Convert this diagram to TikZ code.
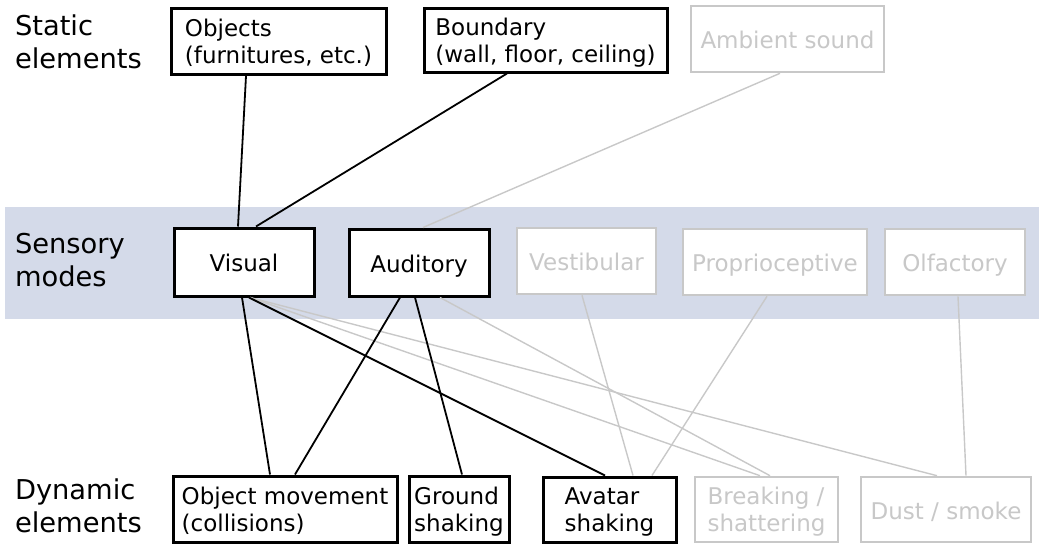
\documentclass[tikz,border=0pt]{standalone}
\usepackage{fontspec}
\setmainfont{DejaVu Sans}
\definecolor{bandc}{RGB}{212,218,233}
\definecolor{lgray}{RGB}{200,200,200}
\tikzset{
 box/.style={draw=black, line width=3pt, fill=white, inner sep=0pt, align=left, font=\fontsize{23}{27}\selectfont, text=black},
 gbox/.style={box, draw=lgray, line width=2.6pt, text=lgray},
 one/.style={text height=19pt, text depth=0pt},
 two/.style={text height=44pt, text depth=0pt},
 lab/.style={anchor=south west, inner sep=0pt, outer sep=0pt, align=left, text depth=0pt, font=\fontsize{27.3}{33}\selectfont},
 bl/.style={draw=black, line width=1.8pt},
 gl/.style={draw=lgray, line width=1.4pt},
}
\begin{document}
\begin{tikzpicture}[x=1pt,y=-1pt]
\useasboundingbox (0,0) rectangle (1039,546);
\fill[bandc] (5,207) rectangle (1039,319);
% row labels
\node[lab] (lstatic) at (15,68) {Static\\elements};
\node[lab] (lsens) at (15,286) {Sensory\\modes};
\node[lab] (ldyn) at (15,532) {Dynamic\\elements};
% static elements
\node[box, two, minimum width=215pt, minimum height=66pt] (obj) at (278.5,41.5) {Objects\\(furnitures, etc.)};
\node[box, two, minimum width=243pt, minimum height=64pt] (bnd) at (545.5,40) {Boundary\\(wall, floor, ceiling)};
\node[gbox, one, minimum width=193pt, minimum height=66pt] (amb) at (787.5,39) {Ambient sound};
% sensory modes
\node[box, one, minimum width=140pt, minimum height=68pt] (vis) at (244,262) {Visual};
\node[box, one, minimum width=140pt, minimum height=67pt] (aud) at (419,262.5) {Auditory};
\node[gbox, one, minimum width=139pt, minimum height=66pt] (ves) at (586.5,261) {Vestibular};
\node[gbox, one, minimum width=184pt, minimum height=66pt] (pro) at (775,262) {Proprioceptive};
\node[gbox, one, minimum width=140pt, minimum height=66pt] (olf) at (955,262) {Olfactory};
% dynamic elements
\node[box, two, minimum width=224pt, minimum height=66pt] (mov) at (285,509) {Object movement\\(collisions)};
\node[box, two, minimum width=100pt, minimum height=66pt] (gnd) at (459,509) {Ground\\shaking};
\node[box, two, minimum width=133pt, minimum height=65pt] (ava) at (609.5,509.5) {Avatar\\shaking};
\node[gbox, two, minimum width=143pt, minimum height=65pt] (brk) at (766.5,509.5) {Breaking /\\shattering};
\node[gbox, one, minimum width=170pt, minimum height=65pt] (dst) at (946,509.5) {Dust / smoke};
% grey connectors
\draw[gl] ([xshift=-7.5pt]amb.south) -- ([xshift=4pt]aud.north);
\draw[gl] ([xshift=6pt]vis.south) -- ([xshift=-6.5pt]brk.north);
\draw[gl] ([xshift=6pt]vis.south) -- ([xshift=-9pt]dst.north);
\draw[gl] ([xshift=21pt]aud.south) -- ([xshift=3.5pt]brk.north);
\draw[gl] ([xshift=-4.5pt]ves.south) -- ([xshift=23.5pt]ava.north);
\draw[gl] ([xshift=-8pt]pro.south) -- ([xshift=42.5pt]ava.north);
\draw[gl] ([xshift=3pt]olf.south) -- ([xshift=20pt]dst.north);
% black connectors
\draw[bl] ([xshift=-32.5pt]obj.south) -- ([xshift=-6pt]vis.north);
\draw[bl] ([xshift=-38.5pt]bnd.south) -- ([xshift=12pt]vis.north);
\draw[bl] ([xshift=-2pt]vis.south) -- ([xshift=-15pt]mov.north);
\draw[bl] ([xshift=5pt]vis.south) -- ([xshift=-4.5pt]ava.north);
\draw[bl] ([xshift=-19pt]aud.south) -- ([xshift=10pt]mov.north);
\draw[bl] ([xshift=-4pt]aud.south) -- ([xshift=3pt]gnd.north);
\end{tikzpicture}
\end{document}
